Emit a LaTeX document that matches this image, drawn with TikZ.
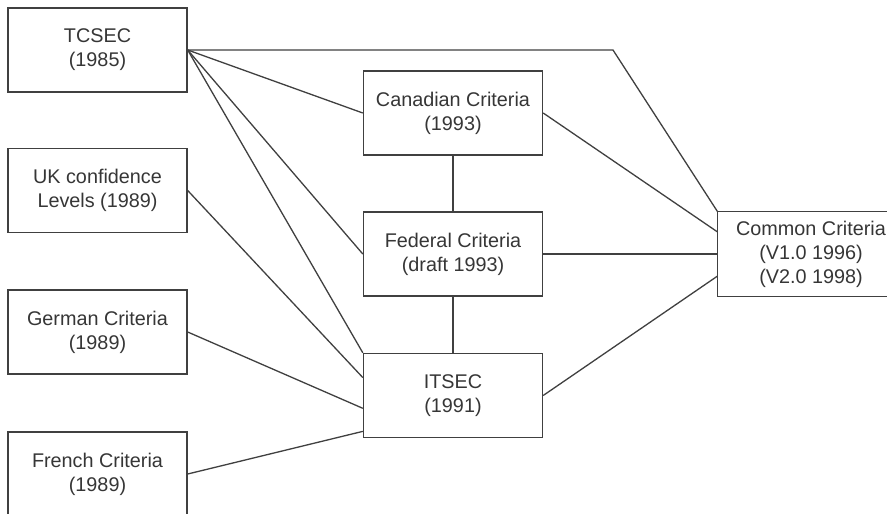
\documentclass[tikz,border=0pt]{standalone}
\usepackage{fontspec}
\setmainfont{Liberation Sans}
\usetikzlibrary{positioning,calc}

\definecolor{edgegray}{HTML}{404040}
\definecolor{textgray}{HTML}{363636}

\begin{document}
\begin{tikzpicture}[x=1pt, y=-1pt,
    critbox/.style={draw=edgegray, line width=1.4pt, fill=white, text=textgray,
        minimum width=179pt, minimum height=84pt, align=center,
        font=\fontsize{19.8}{24}\selectfont, inner sep=0pt},
    link/.style={draw=edgegray, line width=1.3pt}]
    \useasboundingbox (0,0) rectangle (887,514);
    \clip (0,0) rectangle (887,514);
    \fill[white] (0,0) rectangle (887,514);

    % Bend of the long TCSEC link
    \coordinate (bend) at (613,50);

    % Criteria boxes
    \node[critbox] (tcsec)    at (97.5,50)   {TCSEC\\(1985)};
    \node[critbox] (uk)       at (97.5,190.5) {UK confidence\\Levels (1989)};
    \node[critbox] (german)   at (97.5,332)  {German Criteria\\(1989)};
    \node[critbox] (french)   at (97.5,474)  {French Criteria\\(1989)};

    \node[critbox] (canadian) at (453,113)   {Canadian Criteria\\(1993)};
    \node[critbox] (federal)  at (453,254)   {Federal Criteria\\(draft 1993)};
    \node[critbox] (itsec)    at (453,395.5) {ITSEC\\(1991)};

    % right side runs off the page, so no right edge
    \node[critbox, draw=none, minimum width=186pt] (common) at (811,254)
        {Common Criteria\\(V1.0 1996)\\(V2.0 1998)};
    \draw[edgegray, line width=1.4pt]
        ([xshift=170pt]common.north west) -- (common.north west)
        -- (common.south west) -- ([xshift=170pt]common.south west);

    % TCSEC fan
    \draw[link] (tcsec.east) -- (bend) -- (common.north west);
    \draw[link] (tcsec.east) -- (canadian.west);
    \draw[link] (tcsec.east) -- (federal.west);
    \draw[link] (tcsec.east) -- (itsec.north west);

    % European criteria into ITSEC
    \draw[link] (uk.east)     -- ($(itsec.north west)!0.29!(itsec.south west)$);
    \draw[link] (german.east) -- ($(itsec.north west)!0.65!(itsec.south west)$);
    \draw[link] (french.east) -- ($(itsec.north west)!0.92!(itsec.south west)$);

    % Middle column
    \draw[link] (canadian.south) -- (federal.north);
    \draw[link] (federal.south)  -- (itsec.north);

    % Into Common Criteria
    \draw[link] (canadian.east) -- ($(common.north west)!0.24!(common.south west)$);
    \draw[link] (federal.east)  -- (common.west);
    \draw[link] (itsec.east)    -- ($(common.north west)!0.76!(common.south west)$);
\end{tikzpicture}
\end{document}
